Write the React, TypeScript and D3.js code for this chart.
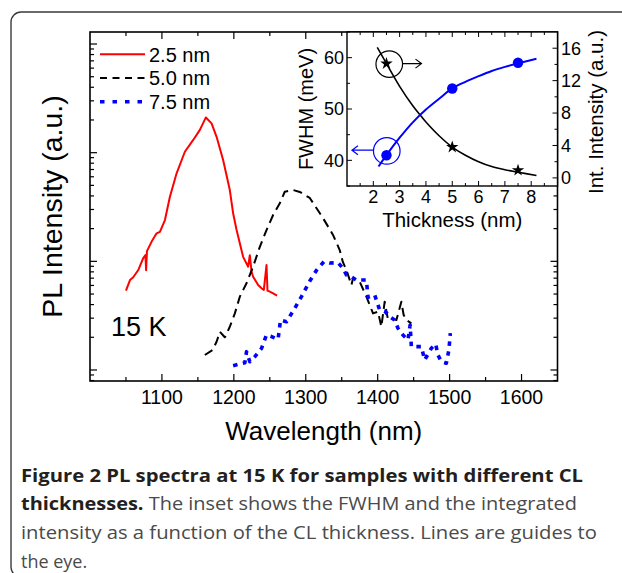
import React from "react";
import * as d3 from "d3";

// PL spectra at 15 K: wavelength (nm) vs intensity (a.u., log axis)
const wl25 = [1050, 1055.6, 1060.1, 1067.1, 1074, 1077.1, 1078, 1079.2, 1085.7, 1092.6, 1097.2, 1104.2, 1111.1, 1120.4, 1131.9, 1143.5, 1152.8, 1161.1, 1169, 1176, 1185.1, 1194.4, 1199, 1203.8, 1208.3, 1212.9, 1219.9, 1222.2, 1224.6, 1226.8, 1233.8, 1238.5, 1241.7, 1245.4, 1246.8, 1250, 1254.6, 1260.1];
const pl25 = [5.37, 6.73, 7.13, 8.32, 10.7, 11.4, 8.3, 12.4, 15.2, 18.1, 18.7, 24.0, 39.3, 64.6, 102, 131, 162, 211, 186, 140, 85.6, 45.3, 27.7, 19.4, 14.7, 11.0, 8.93, 11.4, 8.03, 7.22, 6.05, 5.65, 5.45, 9.25, 5.37, 5.26, 5.08, 4.83];

const wl50 = [1159.7, 1170.4, 1176, 1180.6, 1187.5, 1194.4, 1201.4, 1208.3, 1217.6, 1226.8, 1236.1, 1245.4, 1254.6, 1263.9, 1270.8, 1282.4, 1291.7, 1305.6, 1324, 1337.9, 1347.2, 1351.4, 1356.5, 1363.5, 1365.7, 1375, 1384.3, 1393.5, 1400.4, 1405.1, 1409.7, 1413.9, 1419, 1426, 1432.9, 1436.1, 1439.9, 1446.8];
const pl50 = [1.374, 1.528, 1.82, 2.25, 2.0, 2.5, 3.32, 4.73, 6.28, 8.93, 13.6, 19.4, 26.7, 34.2, 43.7, 45.3, 43.5, 38.3, 25.0, 17.5, 12.7, 9.93, 8.32, 6.05, 6.98, 6.5, 4.73, 3.32, 3.44, 2.5, 4.25, 3.01, 2.99, 2.88, 4.25, 3.21, 2.88, 2.69];

const wl75 = [1199, 1208.3, 1215.3, 1217.6, 1222.2, 1229.2, 1238.5, 1245.4, 1252.4, 1261.5, 1264.9, 1273.2, 1284.7, 1294, 1305.6, 1314.9, 1325.3, 1333.3, 1344.9, 1351.8, 1356.5, 1363.5, 1370.4, 1377.4, 1384.3, 1386.5, 1395.8, 1402.8, 1409.7, 1416.7, 1423.6, 1428.2, 1435.1, 1442.1, 1445.1, 1446.8, 1453.8, 1460.7, 1465.3, 1474.6, 1480.6, 1483.8, 1488.5, 1495.4, 1499, 1501];
const pl75 = [1.096, 1.136, 1.167, 1.474, 1.192, 1.325, 1.585, 2.10, 2.03, 1.92, 2.88, 2.78, 3.70, 4.73, 6.59, 8.27, 9.93, 9.65, 9.71, 8.63, 7.48, 7.22, 6.73, 6.73, 6.73, 4.67, 4.90, 3.56, 3.49, 3.09, 2.88, 2.42, 2.10, 1.89, 2.59, 1.64, 1.64, 1.64, 1.236, 1.585, 1.735, 1.374, 1.192, 1.153, 1.528, 2.18];

const legendLabels = ["2.5 nm", "5.0 nm", "7.5 nm"];
const xTickLabels = [1100, 1200, 1300, 1400, 1500, 1600];

// Inset: FWHM and integrated intensity vs CL thickness
const thickness = [2.5, 5, 7.5];
const fwhm = [41, 54, 59];
const intIntensity = [14.1, 3.8, 0.95];
const fwhmGuideT = [2.2, 2.5, 3, 3.5, 4, 4.5, 5, 5.5, 6, 6.5, 7, 7.5, 8.2];
const fwhmGuideV = [38.8, 41, 44.4, 47.4, 49.9, 52.0, 54, 55.3, 56.4, 57.4, 58.2, 58.9, 59.8];
const intGuideT = [2.15, 2.5, 3, 3.5, 3.82, 4, 4.5, 5, 5.5, 6, 6.5, 7, 7.5, 8.2];
const intGuideV = [16.1, 14.1, 11.3, 8.9, 7.6, 6.9, 5.2, 3.8, 2.8, 2.0, 1.4, 1.0, 0.7, 0.3];
const insetXTicks = [2, 3, 4, 5, 6, 7, 8];
const fwhmTicks = [40, 50, 60];
const intTicks = [0, 4, 8, 12, 16];

const FONT = "'Liberation Sans', Arial, Helvetica, sans-serif";
const CAPTION_FONT = "'Open Sans', 'Noto Sans', sans-serif";

const plot = { left: 90, right: 557.5, top: 32, bottom: 381 };
const inset = { left: 347, right: 557.5, top: 32, bottom: 186 };

const seriesStyle = [
  { color: "#ff0000", width: 2, dash: undefined as string | undefined },
  { color: "#000000", width: 2, dash: "9,5.5" },
  { color: "#0000ff", width: 3.6, dash: "4.5,5.5" },
];

export default function App() {
  const x = d3.scaleLinear().domain([1000, 1650]).range([plot.left, plot.right]);
  const y = d3.scaleLog().domain([0.792, 1290]).range([plot.bottom, plot.top]);
  const line = d3
    .line<[number, number]>()
    .x((d) => x(d[0]))
    .y((d) => y(d[1]));

  const spectra = [
    d3.zip(wl25, pl25) as [number, number][],
    d3.zip(wl50, pl50) as [number, number][],
    d3.zip(wl75, pl75) as [number, number][],
  ];

  const xMinor = d3.range(1050, 1650, 50);
  const yTicks = y.ticks();
  const isDecade = (v: number) => Math.abs(Math.log10(v) - Math.round(Math.log10(v))) < 1e-6;

  // inset scales
  const tx = d3.scaleLinear().domain([1, 9]).range([inset.left, inset.right]);
  const fy = d3.scaleLinear().domain([35, 65]).range([inset.bottom, inset.top]);
  const iy = d3.scaleLinear().domain([-1, 18]).range([inset.bottom, inset.top]);
  const guide = (ts: number[], vs: number[], sy: d3.ScaleLinear<number, number>) =>
    d3
      .line<[number, number]>()
      .x((d) => tx(d[0]))
      .y((d) => sy(d[1]))
      .curve(d3.curveCatmullRom)(d3.zip(ts, vs) as [number, number][]) || "";

  const star = d3.symbol().type(d3.symbolStar).size(48)() || "";

  const tMinor = d3.range(1.5, 9, 0.5);
  const fMinor = d3.range(35, 66, 5);
  const iMinor = d3.range(0, 18, 2);

  const starAt = { x: tx(thickness[0]), y: iy(intIntensity[0]) };
  const dotAt = { x: tx(thickness[0]), y: fy(fwhm[0]) };

  return (
    <svg
      width={622}
      height={573}
      viewBox="0 0 622 573"
      style={{ position: "absolute", left: 0, top: 0, background: "#fff" }}
    >
      {/* outer figure frame */}
      <rect x={11} y={12} width={640} height={565} rx={10} fill="none" stroke="#3a3a3a" strokeWidth={1.4} />

      {/* main plot ticks */}
      <g stroke="#000" strokeWidth={1.2}>
        {xMinor.map((v) => {
          const len = v % 100 === 0 ? 7 : 4;
          return (
            <g key={"xt" + v}>
              <line x1={x(v)} x2={x(v)} y1={plot.bottom} y2={plot.bottom - len} />
              <line x1={x(v)} x2={x(v)} y1={plot.top} y2={plot.top + len} />
            </g>
          );
        })}
        {yTicks.map((v, i) => {
          const len = isDecade(v) ? 7 : 4;
          return (
            <g key={"yt" + i}>
              <line x1={plot.left} x2={plot.left + len} y1={y(v)} y2={y(v)} />
              <line x1={plot.right} x2={plot.right - len} y1={y(v)} y2={y(v)} />
            </g>
          );
        })}
      </g>

      {/* spectra */}
      {spectra.map((pts, i) => (
        <path
          key={"s" + i}
          d={line(pts) || ""}
          fill="none"
          stroke={seriesStyle[i].color}
          strokeWidth={seriesStyle[i].width}
          strokeDasharray={seriesStyle[i].dash}
          strokeLinejoin="round"
        />
      ))}

      {/* legend */}
      {legendLabels.map((lab, i) => (
        <g key={"lg" + i}>
          <line
            x1={100}
            x2={145}
            y1={54.3 + i * 23.7}
            y2={54.3 + i * 23.7}
            stroke={seriesStyle[i].color}
            strokeWidth={seriesStyle[i].width}
            strokeDasharray={seriesStyle[i].dash ? (i === 1 ? "7,5.5" : "4.5,8") : undefined}
          />
          <text x={149} y={61.7 + i * 23.6} fontFamily={FONT} fontSize={20} fill="#000">
            {lab}
          </text>
        </g>
      ))}

      <text x={111} y={336} fontFamily={FONT} fontSize={27} fill="#000">
        15 K
      </text>

      {/* main frame */}
      <rect
        x={plot.left}
        y={plot.top}
        width={plot.right - plot.left}
        height={plot.bottom - plot.top}
        fill="none"
        stroke="#000"
        strokeWidth={1.6}
      />

      {/* x tick labels and axis titles */}
      {xTickLabels.map((v) => (
        <text key={"xl" + v} x={x(v)} y={403.5} textAnchor="middle" fontFamily={FONT} fontSize={19.5} fill="#000">
          {v}
        </text>
      ))}
      <text x={(plot.left + plot.right) / 2} y={440} textAnchor="middle" fontFamily={FONT} fontSize={26} fill="#000">
        Wavelength (nm)
      </text>
      <text
        transform={`translate(62,${(plot.top + plot.bottom) / 2}) rotate(-90)`}
        textAnchor="middle"
        fontFamily={FONT}
        fontSize={28.5}
        fill="#000"
      >
        PL Intensity (a.u.)
      </text>

      {/* inset */}
      <rect
        x={inset.left}
        y={inset.top}
        width={inset.right - inset.left}
        height={inset.bottom - inset.top}
        fill="#fff"
        stroke="#000"
        strokeWidth={1.4}
      />
      <g stroke="#000" strokeWidth={1}>
        {tMinor.map((v) => {
          const len = Number.isInteger(v) ? 5 : 3;
          return (
            <g key={"it" + v}>
              <line x1={tx(v)} x2={tx(v)} y1={inset.bottom} y2={inset.bottom - len} />
              <line x1={tx(v)} x2={tx(v)} y1={inset.top} y2={inset.top + len} />
            </g>
          );
        })}
        {fMinor.map((v) => (
          <line key={"ft" + v} x1={inset.left} x2={inset.left + (v % 10 === 0 ? 5 : 3)} y1={fy(v)} y2={fy(v)} />
        ))}
        {iMinor.map((v) => (
          <line key={"itk" + v} x1={inset.right} x2={inset.right - (v % 4 === 0 ? 5 : 3)} y1={iy(v)} y2={iy(v)} />
        ))}
      </g>

      <path d={guide(intGuideT, intGuideV, iy)} fill="none" stroke="#000" strokeWidth={1.6} />
      <path d={guide(fwhmGuideT, fwhmGuideV, fy)} fill="none" stroke="#0000ff" strokeWidth={2} />

      {thickness.map((t, i) => (
        <circle key={"fc" + i} cx={tx(t)} cy={fy(fwhm[i])} r={5.2} fill="#0000ff" />
      ))}
      {thickness.map((t, i) => (
        <path key={"st" + i} d={star} transform={`translate(${tx(t)},${iy(intIntensity[i])})`} fill="#000" />
      ))}

      {/* markers pointing to the matching axis */}
      <g fill="none" strokeWidth={1.2}>
        <circle cx={starAt.x + 2.8} cy={starAt.y + 0.5} r={13.3} stroke="#000" />
        <path
          d={`M${starAt.x + 16.1},${starAt.y} L${starAt.x + 35},${starAt.y} M${starAt.x + 29},${starAt.y - 4.5} L${starAt.x + 35},${starAt.y} L${starAt.x + 29},${starAt.y + 4.5}`}
          stroke="#000"
        />
        <circle cx={dotAt.x + 0.3} cy={dotAt.y - 4.3} r={13.3} stroke="#0000ff" />
        <path
          d={`M${dotAt.x - 13},${dotAt.y - 5} L${dotAt.x - 34.5},${dotAt.y - 5} M${dotAt.x - 28.5},${dotAt.y - 9.5} L${dotAt.x - 34.5},${dotAt.y - 5} L${dotAt.x - 28.5},${dotAt.y - 0.5}`}
          stroke="#0000ff"
        />
      </g>

      {/* inset labels */}
      {insetXTicks.map((v) => (
        <text key={"ixl" + v} x={tx(v)} y={203} textAnchor="middle" fontFamily={FONT} fontSize={18} fill="#000">
          {v}
        </text>
      ))}
      {fwhmTicks.map((v) => (
        <text key={"fl" + v} x={344} y={fy(v)} dy="0.35em" textAnchor="end" fontFamily={FONT} fontSize={18} fill="#000">
          {v}
        </text>
      ))}
      {intTicks.map((v) => (
        <text key={"il" + v} x={561} y={iy(v)} dy="0.35em" textAnchor="start" fontFamily={FONT} fontSize={18} fill="#000">
          {v}
        </text>
      ))}
      <text x={(inset.left + inset.right) / 2} y={226.5} textAnchor="middle" fontFamily={FONT} fontSize={20.5} fill="#000">
        Thickness (nm)
      </text>
      <text
        transform={`translate(313,${(inset.top + inset.bottom) / 2}) rotate(-90)`}
        textAnchor="middle"
        fontFamily={FONT}
        fontSize={20}
        fill="#000"
      >
        FWHM (meV)
      </text>
      <text
        transform={`translate(603,112) rotate(-90)`}
        textAnchor="middle"
        fontFamily={FONT}
        fontSize={20.5}
        fill="#000"
      >
        Int. Intensity (a.u.)
      </text>

      {/* caption */}
      <g fontFamily={CAPTION_FONT} fontSize={18}>
        <text x={21} y={481.5} fontWeight="bold" fill="#231f20" textLength={562} lengthAdjust="spacingAndGlyphs">
          Figure 2 PL spectra at 15 K for samples with different CL
        </text>
        <text x={21} y={510} fill="#4a4a4a" textLength={556} lengthAdjust="spacingAndGlyphs">
          <tspan fontWeight="bold" fill="#231f20">thicknesses.</tspan>
          <tspan> The inset shows the FWHM and the integrated</tspan>
        </text>
        <text x={21} y={539} fill="#4a4a4a" textLength={576} lengthAdjust="spacingAndGlyphs">
          intensity as a function of the CL thickness. Lines are guides to
        </text>
        <text x={21} y={567.5} fill="#4a4a4a">
          the eye.
        </text>
      </g>
    </svg>
  );
}
